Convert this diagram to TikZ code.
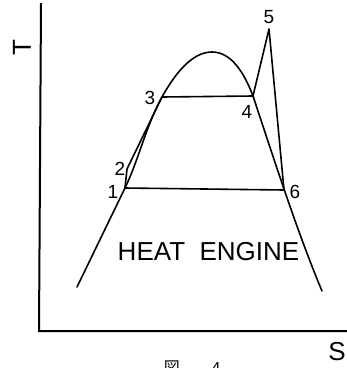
\documentclass[tikz,border=0pt]{standalone}
\usepackage{fontspec}
\setmainfont{Liberation Sans}
\newfontfamily\cjkfont{Noto Sans CJK JP}
\usetikzlibrary{positioning}

\begin{document}
\begin{tikzpicture}[
    x=1pt, y=-1pt,
    curve/.style={line width=1.6pt, line join=round, line cap=round},
    axis/.style={line width=2pt},
    num/.style={font=\fontsize{19}{19}\selectfont, inner sep=0pt},
    big/.style={font=\fontsize{26}{26}\selectfont, inner sep=0pt},
    caption/.style={font=\fontsize{16}{16}\selectfont, inner sep=0pt, anchor=north}
]
    \useasboundingbox (0,0) rectangle (347,368);

    % Axes
    \coordinate (origin) at (39,331);
    \coordinate (ytop) at (41,3);
    \coordinate (xend) at (347,331);
    \draw[axis] (ytop) -- (origin) -- (xend);
    \node[big, rotate=90] (tlabel) at (22,48) {T};
    \node[big] (slabel) at (337,352) {S};

    % Cycle points
    \coordinate (p1) at (125,188);
    \coordinate (p2) at (127,169);
    \coordinate (p3) at (162,97);
    \coordinate (p4) at (253,96);
    \coordinate (p5) at (269,29);
    \coordinate (p6) at (284,190);
    \coordinate (top) at (212,52);

    % Saturation dome
    \draw[curve] (77,287) -- (p1)
        .. controls (139.4,158) and (145.5,127) .. (p3)
        .. controls (178.7,67) and (195.3,52) .. (top)
        .. controls (228.2,52) and (241.9,66.7) .. (p4)
        .. controls (273,156) and (296.8,231) .. (322,291);

    % Cycle
    \draw[curve] (p1) -- (p2) -- (p3) -- (p4) -- (p5) -- (p6) -- cycle;

    % Point labels
    \node[num] (n1) at (113,192) {1};
    \node[num] (n2) at (120,169) {2};
    \node[num] (n3) at (150,98) {3};
    \node[num] (n4) at (247,112) {4};
    \node[num] (n5) at (269,17) {5};
    \node[num] (n6) at (295,192) {6};

    \node[big] (engine) at (208.5,252) {HEAT\ \ ENGINE};

    % Figure caption (cut off at the bottom)
    \node[caption, font=\cjkfont\fontsize{16}{16}\selectfont] (figmark) at (172,361) {図};
    \node[caption] (fignum) at (216,362) {4};
\end{tikzpicture}
\end{document}
